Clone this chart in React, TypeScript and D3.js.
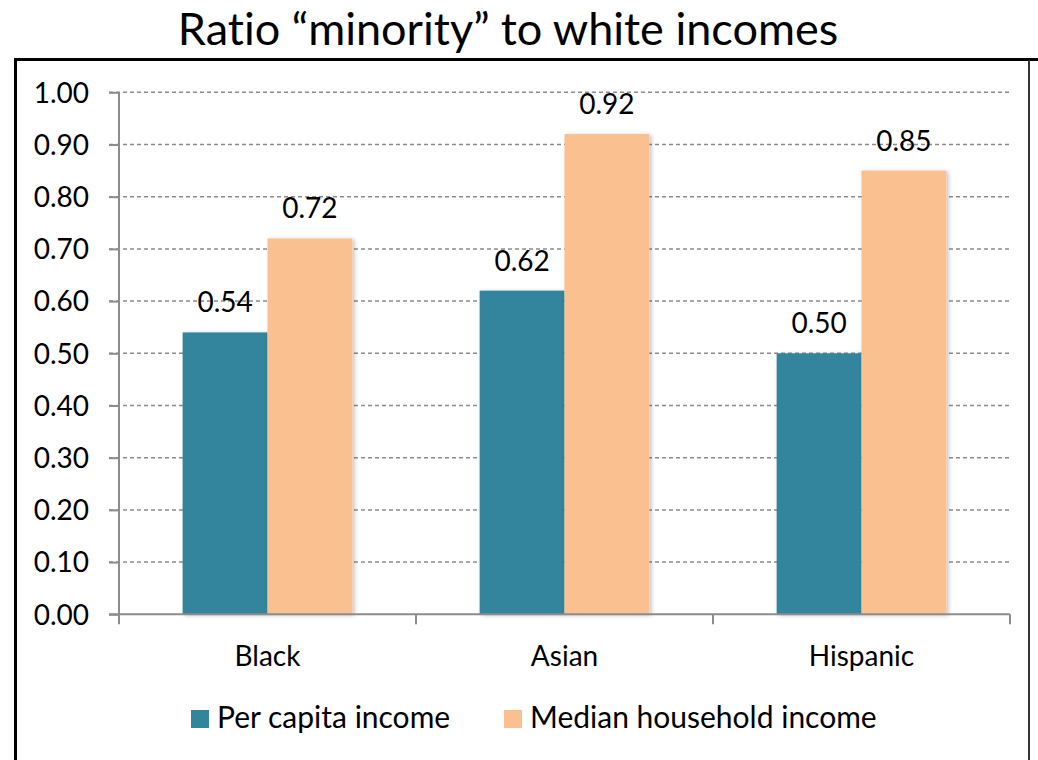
import { useEffect, useRef } from "react";
import { axisLeft, scaleBand, scaleLinear, select } from "d3";

const categories = ["Black", "Asian", "Hispanic"];
const seriesNames = ["Per capita income", "Median household income"];
const perCapita = [0.54, 0.62, 0.5];
const medianHousehold = [0.72, 0.92, 0.85];
const yTicks = [0, 0.1, 0.2, 0.3, 0.4, 0.5, 0.6, 0.7, 0.8, 0.9, 1.0];

const colors = ["#31859C", "#FAC090"];
const font = "Lato, 'Open Sans', sans-serif";

export default function App() {
  const svgRef = useRef<SVGSVGElement | null>(null);

  useEffect(() => {
    const svg = select(svgRef.current);
    svg.selectAll("*").remove();

    const width = 1038;
    const height = 760;
    const margin = { top: 92.3, right: 28, bottom: 145.7, left: 119 };
    const innerHeight = height - margin.top - margin.bottom;

    svg.attr("width", width).attr("height", height)
      .style("font-variant-ligatures", "none");

    const defs = svg.append("defs");
    const shadow = defs.append("filter").attr("id", "barShadow")
      .attr("x", "-10%").attr("y", "-10%").attr("width", "130%").attr("height", "130%");
    shadow.append("feDropShadow")
      .attr("dx", 2).attr("dy", 1).attr("stdDeviation", 2)
      .attr("flood-color", "#000").attr("flood-opacity", 0.25);

    svg.append("rect").attr("width", width).attr("height", height).attr("fill", "#fff");

    // frame
    svg.append("line").attr("x1", 15.5).attr("x2", 15.5).attr("y1", 58).attr("y2", height)
      .attr("stroke", "#000").attr("stroke-width", 3);
    svg.append("line").attr("x1", 14).attr("x2", 1038).attr("y1", 59.5).attr("y2", 59.5)
      .attr("stroke", "#000").attr("stroke-width", 3);
    svg.append("line").attr("x1", 1029).attr("x2", 1029).attr("y1", 60).attr("y2", height)
      .attr("stroke", "#333").attr("stroke-width", 2);

    // title
    svg.append("text")
      .attr("x", 508).attr("y", 45)
      .attr("text-anchor", "middle")
      .style("font-family", font).style("font-size", "45px").attr("fill", "#000")
      .text("Ratio \u201cminority\u201d to white incomes");

    const scaleX = scaleBand<string>()
      .domain(categories)
      .range([margin.left, width - margin.right]);
    const scaleSeries = scaleBand<string>()
      .domain(seriesNames)
      .range([0, scaleX.bandwidth()])
      .paddingInner(0)
      .paddingOuter(0.75);
    const scaleY = scaleLinear().domain([0, 1]).range([margin.top + innerHeight, margin.top]);

    const x0 = margin.left;
    const x1 = width - margin.right;

    // grid lines
    svg.append("g")
      .selectAll("line")
      .data(yTicks.filter((t) => t > 0))
      .enter()
      .append("line")
      .attr("x1", x0 - 10).attr("x2", x1)
      .attr("y1", (d) => scaleY(d)).attr("y2", (d) => scaleY(d))
      .attr("stroke", "#8c8c8c").attr("stroke-width", 1.5)
      .attr("stroke-dasharray", "4,3");

    // y axis
    const yAxis = svg.append("g").attr("transform", `translate(${x0},0)`);
    yAxis.call(axisLeft(scaleY).tickValues(yTicks).tickFormat((d) => (+d).toFixed(2)).tickSize(10).tickPadding(20));
    yAxis.select(".domain").attr("stroke", "#8c8c8c").attr("stroke-width", 2).attr("d", `M0,${scaleY(0)}V${scaleY(1)}`);
    yAxis.selectAll(".tick line").attr("stroke", "#8c8c8c").attr("stroke-width", 2);
    yAxis.selectAll(".tick text")
      .style("font-family", font).style("font-size", "28px").attr("fill", "#000")
      .attr("dy", "0.35em");

    // bars
    const rows = categories.map((c, i) => ({ cat: c, values: [perCapita[i], medianHousehold[i]] }));
    const groups = svg.append("g").selectAll("g")
      .data(rows).enter().append("g")
      .attr("transform", (d) => `translate(${scaleX(d.cat)},0)`);

    groups.selectAll("rect")
      .data((d) => d.values.map((v, j) => ({ name: seriesNames[j], value: v, j })))
      .enter()
      .append("rect")
      .attr("x", (d) => scaleSeries(d.name) || 0)
      .attr("y", (d) => scaleY(d.value))
      .attr("width", scaleSeries.bandwidth())
      .attr("height", (d) => scaleY(0) - scaleY(d.value))
      .attr("fill", (d) => colors[d.j])
      .attr("filter", "url(#barShadow)");

    groups.selectAll("text")
      .data((d) => d.values.map((v, j) => ({ name: seriesNames[j], value: v })))
      .enter()
      .append("text")
      .attr("x", (d) => (scaleSeries(d.name) || 0) + scaleSeries.bandwidth() / 2)
      .attr("y", (d) => scaleY(d.value) - 20)
      .attr("text-anchor", "middle")
      .style("font-family", font).style("font-size", "28px").attr("fill", "#000")
      .text((d) => d.value.toFixed(2));

    // x axis
    const xAxis = svg.append("g");
    xAxis.append("line")
      .attr("x1", x0 - 10).attr("x2", x1)
      .attr("y1", scaleY(0)).attr("y2", scaleY(0))
      .attr("stroke", "#8c8c8c").attr("stroke-width", 2);
    const edges = [...categories.map((c) => scaleX(c) || 0), x1];
    xAxis.selectAll(".edge")
      .data(edges).enter().append("line")
      .attr("class", "edge")
      .attr("x1", (d) => d).attr("x2", (d) => d)
      .attr("y1", scaleY(0)).attr("y2", scaleY(0) + 10)
      .attr("stroke", "#8c8c8c").attr("stroke-width", 2);
    xAxis.selectAll(".cat")
      .data(categories).enter().append("text")
      .attr("class", "cat")
      .attr("x", (d) => (scaleX(d) || 0) + scaleX.bandwidth() / 2)
      .attr("y", 666)
      .attr("text-anchor", "middle")
      .style("font-family", font).style("font-size", "28px").attr("fill", "#000")
      .text((d) => d);

    // legend
    const legendX = [191, 504];
    const legend = svg.append("g").selectAll("g")
      .data(seriesNames).enter().append("g")
      .attr("transform", (_d, i) => `translate(${legendX[i]},710)`);
    legend.append("rect").attr("width", 18).attr("height", 18)
      .attr("fill", (_d, i) => colors[i]);
    legend.append("text")
      .attr("x", 26).attr("y", 18)
      .style("font-family", font).style("font-size", "30px").attr("fill", "#000")
      .text((d) => d);
  }, []);

  return (
    <div style={{ position: "absolute", left: 0, top: 0 }}>
      <svg ref={svgRef} style={{ display: "block" }}></svg>
    </div>
  );
}
